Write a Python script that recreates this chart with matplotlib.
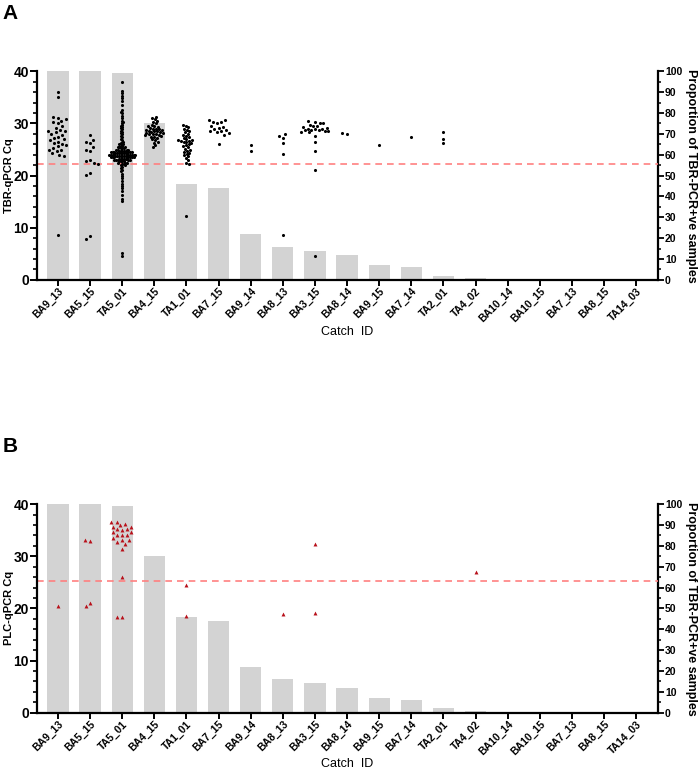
#!/usr/bin/env python3
# -*- coding: utf-8 -*-

"""
Cq values (beeswarm) over the proportion of TBR-PCR positive samples per catch.
"""

import matplotlib
matplotlib.use("Agg")
import matplotlib.pyplot as plt
import numpy as np

plt.rcParams['font.family'] = ['Liberation Sans Narrow', 'Liberation Sans', 'DejaVu Sans']

catch_ids = ["BA9_13", "BA5_15", "TA5_01", "BA4_15", "TA1_01", "BA7_15", "BA9_14",
             "BA8_13", "BA3_15", "BA8_14", "BA9_15", "BA7_14", "TA2_01", "TA4_02",
             "BA10_14", "BA10_15", "BA7_13", "BA8_15", "TA14_03"]

# proportion of TBR-PCR positive samples (%)
proportion = [100, 100, 99, 75, 46, 44, 22, 16, 14, 12, 7, 6, 2, 1, 0, 0, 0, 0, 0]

# TBR-qPCR Cq per catch
tbr_ba9_13 = [36.0, 35.0, 31.3, 31.0, 30.8, 30.5, 30.2, 30.0, 29.6, 29.2, 28.8, 28.6,
              28.5, 28.3, 28.0, 27.8, 27.5, 27.3, 27.0, 26.8, 26.5, 26.3, 26.0, 25.8,
              25.6, 25.3, 25.0, 25.0, 24.7, 24.4, 24.0, 23.8, 8.7]
tbr_ba5_15 = [27.8, 26.9, 26.5, 26.3, 25.5, 25.0, 24.8, 23.0, 22.8, 22.5, 22.3,
              20.5, 20.2, 8.4, 7.9]
tbr_ta5_01_tail = [38.0, 36.2, 35.8, 35.3, 34.8, 34.4, 33.5, 32.5, 32.2, 32.0, 31.5,
                   31.0, 30.5, 30.2, 30.0, 29.7, 29.5, 29.3, 29.1, 28.9, 28.6, 28.4,
                   28.1, 27.9, 27.6, 27.4,
                   21.7, 21.5, 21.0, 20.8, 20.3, 19.9, 19.5, 19.0, 18.4, 18.0, 17.6,
                   17.0, 16.2, 15.6, 15.2, 5.2, 4.6]
ta5_01_core_levels = [22.0, 22.25, 22.5, 22.75, 23.0, 23.25, 23.5, 23.75, 24.0, 24.25,
                      24.5, 24.75, 25.0, 25.25, 25.5, 25.75, 26.0, 26.25, 26.5, 26.75, 27.0]
ta5_01_core_counts = [2, 2, 3, 4, 5, 6, 7, 8, 9, 8, 6, 5, 4, 3, 3, 2, 2, 2, 1, 1, 1]
tbr_ba4_15 = [31.3, 31.0, 30.8, 30.5, 30.3, 30.0, 29.8, 29.6, 29.5, 29.4, 29.2, 29.0,
              29.0, 28.9, 28.8, 28.7, 28.6, 28.5, 28.5, 28.4, 28.3, 28.2, 28.1, 28.0,
              28.0, 27.9, 27.8, 27.7, 27.6, 27.5, 27.4, 27.2, 27.0, 26.8, 26.5, 26.3,
              25.8, 25.4]
tbr_ta1_01 = [29.7, 29.5, 29.3, 29.0, 28.8, 28.5, 28.3, 28.0, 27.8, 27.6, 27.4, 27.2,
              27.0, 26.9, 26.8, 26.7, 26.6, 26.5, 26.4, 26.2, 26.0, 25.8, 25.6, 25.4,
              25.2, 25.0, 24.8, 24.6, 24.4, 24.2, 24.0, 23.7, 23.4, 23.0, 22.5, 22.2, 12.3]
tbr_ba7_15 = [30.7, 30.6, 30.3, 30.2, 30.0, 29.5, 29.4, 29.2, 29.0, 28.8, 28.6, 28.5,
              28.3, 28.1, 27.8, 26.1]
tbr_ba9_14 = [25.8, 24.7]
tbr_ba8_13 = [28.0, 27.6, 27.2, 26.3, 24.2, 8.6]
tbr_ba3_15 = [30.4, 30.2, 30.0, 30.0, 29.8, 29.6, 29.5, 29.3, 29.2, 29.0, 29.0, 28.9,
              28.8, 28.8, 28.7, 28.6, 28.5, 28.4, 28.3, 27.6, 26.4, 24.7, 21.0, 4.6]
tbr_ba8_14 = [27.9, 28.2]
tbr_ba9_15 = [25.8]
tbr_ba7_14 = [27.4]
tbr_ta2_01 = [28.4, 27.1, 26.2]

# PLC-qPCR Cq per catch
plc_ba9_13 = [20.5]
plc_ba5_15 = [33.0, 33.2, 21.0, 20.4]
plc_ta5_01 = [36.6, 36.6, 36.2, 36.0, 35.7, 35.7, 35.2, 35.2, 35.1, 34.6, 34.6, 34.1,
              34.0, 34.0, 33.5, 33.1, 33.1, 32.8, 32.3, 31.4, 26.1, 18.4, 18.4]
plc_ta1_01 = [24.4, 18.6]
plc_ba8_13 = [18.9]
plc_ba3_15 = [32.4, 19.1]
plc_ta4_02 = [27.0]

tbr_cutoff = 22.2
plc_cutoff = 25.3

tbr_values = [tbr_ba9_13, tbr_ba5_15,
              tbr_ta5_01_tail + list(np.repeat(ta5_01_core_levels, ta5_01_core_counts)),
              tbr_ba4_15, tbr_ta1_01, tbr_ba7_15, tbr_ba9_14, tbr_ba8_13, tbr_ba3_15,
              tbr_ba8_14, tbr_ba9_15, tbr_ba7_14, tbr_ta2_01]
plc_values = [plc_ba9_13, plc_ba5_15, plc_ta5_01, [], plc_ta1_01, [], [], plc_ba8_13,
              plc_ba3_15, [], [], [], [], plc_ta4_02]

# spacing between neighbouring dots (pixels) for each catch
tbr_gaps = [4.5, 4.5, 1.7, 3.0, 3.0, 4.5, 4.5, 4.5, 3.6, 5.0, 4.5, 4.5, 4.5]
plc_gaps = [5.0] * 14


def swarm_offsets(ypix, d):
    """Greedy beeswarm: horizontal pixel offsets so that no two dots overlap."""
    ypix = np.asarray(ypix, dtype=float)
    xs = np.zeros(len(ypix))
    placed = []
    # place the densest region first so the tails stay in the centre
    order = np.argsort(np.abs(ypix - np.median(ypix)))
    for i in order:
        y = ypix[i]
        near = [(px, py) for px, py in placed if abs(py - y) < d]
        cands = [0.0]
        for px, py in near:
            dx = np.sqrt(d * d - (py - y) ** 2)
            cands += [px - dx, px + dx]
        cands.sort(key=abs)
        for c in cands:
            if all((c - px) ** 2 + (y - py) ** 2 >= d * d - 1e-6 for px, py in near):
                xs[i] = c
                break
        placed.append((xs[i], y))
    return xs


def draw_panel(fig, rect, letter, ylab, groups, gaps, cutoff, marker, color, msize):
    ax = fig.add_axes(rect)
    ax2 = ax.twinx()
    ax.set_zorder(ax2.get_zorder() + 1)
    ax.patch.set_visible(False)

    x = np.arange(len(catch_ids))
    ax2.bar(x, proportion, width=0.66, color="#d3d3d3", zorder=1)
    ax.set_xlim(-0.65, len(catch_ids) - 0.32)
    ax2.set_ylim(0, 100)
    ax.set_ylim(0, 40)

    # beeswarm in pixel space
    px_x = ax.transData.transform((1, 0))[0] - ax.transData.transform((0, 0))[0]
    for i, vals in enumerate(groups):
        if len(vals) == 0:
            continue
        vals = np.asarray(vals, dtype=float)
        ypix = ax.transData.transform(np.column_stack([np.zeros_like(vals), vals]))[:, 1]
        off = swarm_offsets(ypix, gaps[i]) / px_x
        ax.scatter(i + off, vals, s=msize, marker=marker, color=color,
                   linewidths=0, zorder=3)

    ax.axhline(cutoff, color="#ff8080", lw=1.2, ls=(0, (4, 3)), zorder=2)

    for a in (ax, ax2):
        a.spines["top"].set_visible(False)
    ax.spines["right"].set_visible(False)
    ax2.spines["left"].set_visible(False)
    ax2.spines["bottom"].set_visible(False)
    ax.spines["left"].set_linewidth(1.6)
    ax.spines["bottom"].set_linewidth(1.6)
    ax2.spines["right"].set_linewidth(1.6)

    ax.set_yticks(np.arange(0, 41, 10))
    ax.set_yticks(np.arange(0, 41, 2), minor=True)
    ax.tick_params(axis="y", which="major", length=5, width=1.4, labelsize=10, pad=1)
    ax.tick_params(axis="y", which="minor", length=3, width=1.2)
    for t in ax.get_yticklabels():
        t.set_fontweight("bold")

    ax2.set_yticks(np.arange(0, 101, 10))
    ax2.set_yticks(np.arange(0, 101, 5), minor=True)
    ax2.tick_params(axis="y", which="major", length=4, width=1.3, labelsize=7.5, pad=1)
    ax2.tick_params(axis="y", which="minor", length=2.5, width=1.1)
    for t in ax2.get_yticklabels():
        t.set_fontweight("bold")

    ax.set_xticks(x)
    ax.set_xticklabels(catch_ids, rotation=45, ha="right", rotation_mode="anchor",
                       fontsize=7.5, fontweight="bold")
    ax.tick_params(axis="x", length=4, width=1.4, pad=0.5)

    ax.set_ylabel(ylab, fontsize=8, fontweight="bold")
    ax.yaxis.set_label_coords(-0.037, 0.5)
    ax2.set_ylabel("Proportion of TBR-PCR+ve samples", fontsize=9, fontweight="bold",
                   rotation=270, labelpad=11)
    ax.set_xlabel("Catch  ID", fontsize=9, labelpad=1)

    fig.text(0.004, rect[1] + rect[3] + 0.0855, letter, fontsize=15, fontweight="bold",
             va="top", ha="left")
    return ax


fig = plt.figure(figsize=(7, 7.84), dpi=100)
draw_panel(fig, [0.053, 0.643, 0.887, 0.266], "A", "TBR-qPCR Cq", tbr_values,
           tbr_gaps, tbr_cutoff, "o", "black", 5)
draw_panel(fig, [0.053, 0.091, 0.887, 0.266], "B", "PLC-qPCR Cq", plc_values,
           plc_gaps, plc_cutoff, "^", "#b8101a", 8)

fig.savefig("out.png", dpi=100)
